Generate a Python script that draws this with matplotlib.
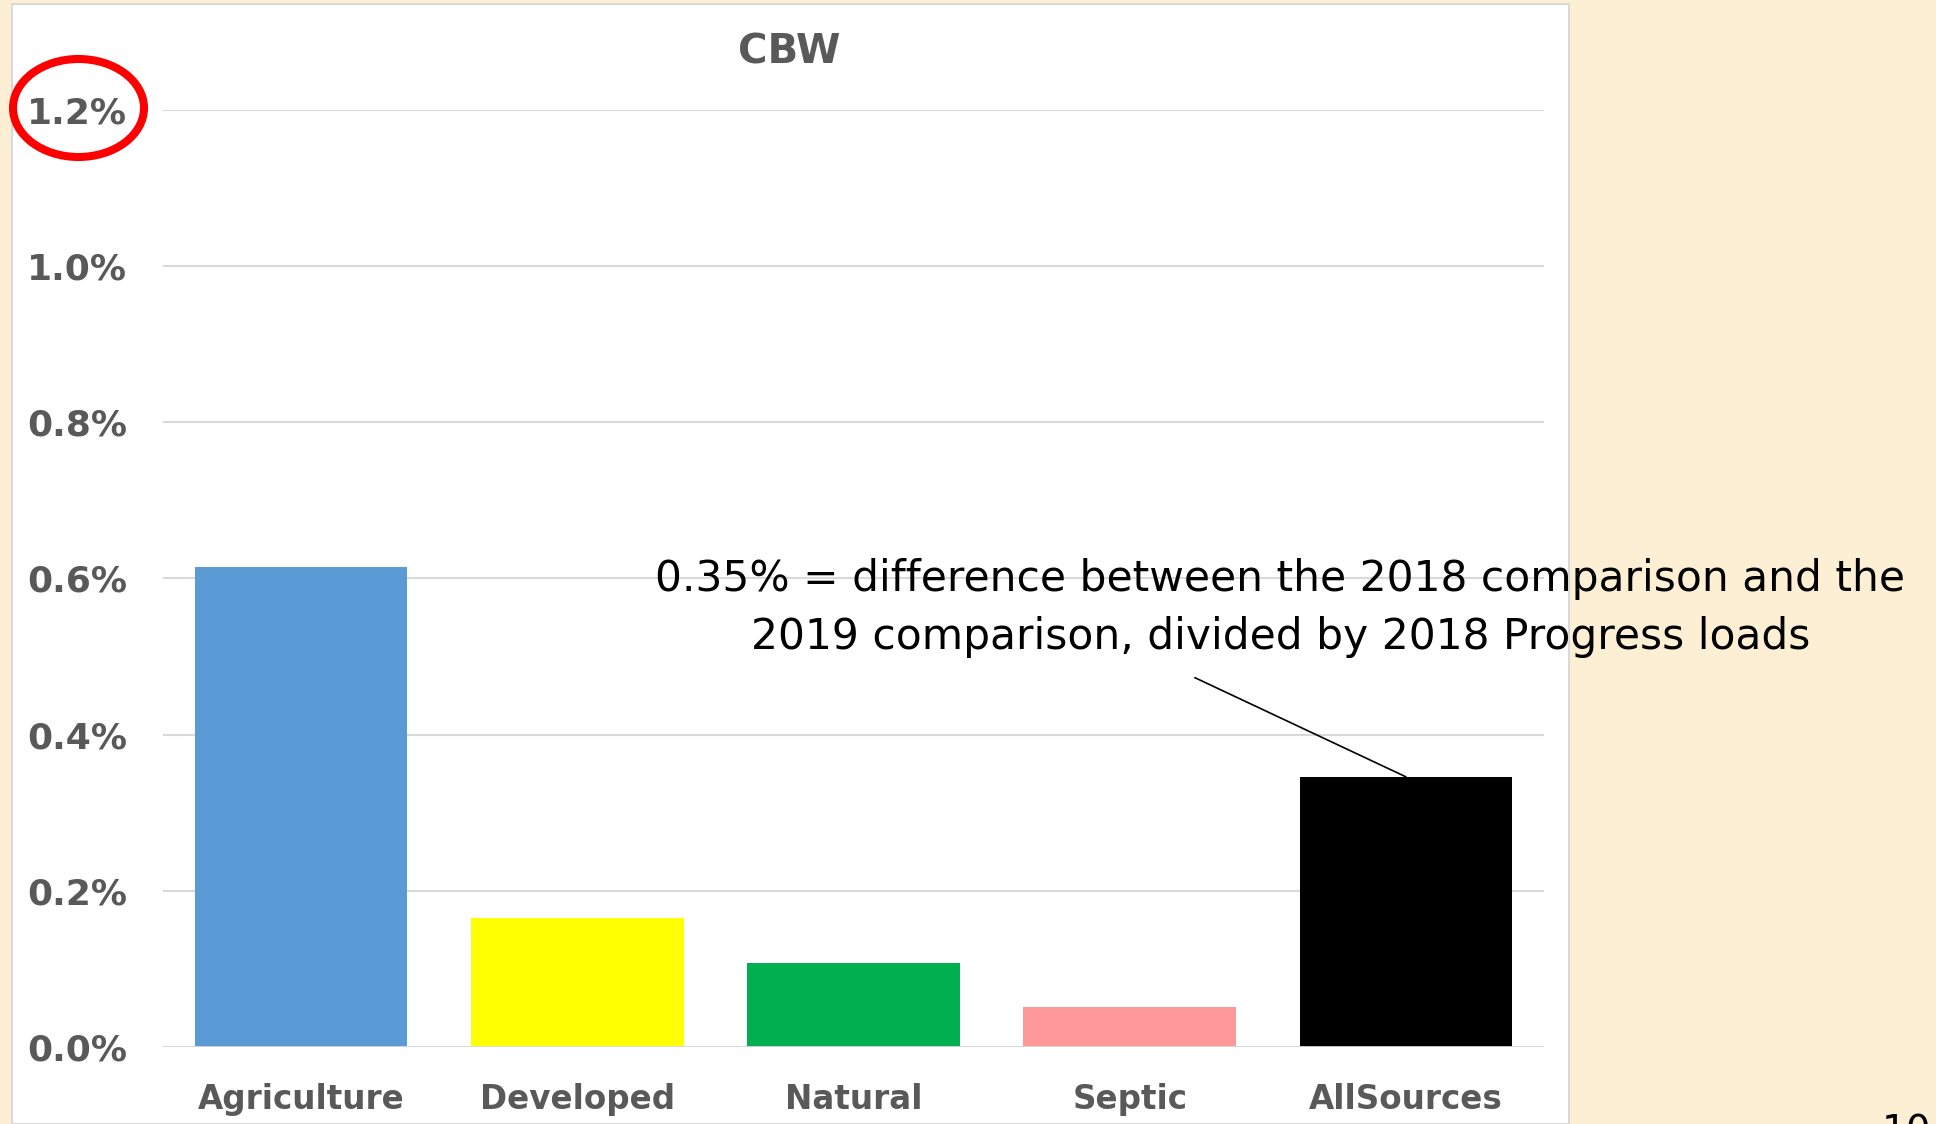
import numpy as np
import matplotlib.pyplot as plt
from matplotlib.patches import Rectangle, Ellipse

categories = ['Agriculture', 'Developed', 'Natural', 'Septic', 'AllSources']
values = [0.615, 0.165, 0.107, 0.051, 0.346]   # percent
bar_colors = ['#5B9BD5', '#FFFF00', '#00B050', '#FF9999', '#000000']
title = 'CBW'
note = ('0.35% = difference between the 2018 comparison and the\n'
        '2019 comparison, divided by 2018 Progress loads')

W, H = 1936, 1124
fig = plt.figure(figsize=(W / 100, H / 100), dpi=100)
fig.patch.set_facecolor('#FCEFD4')

# white chart panel
fig.patches.append(Rectangle((12 / W, 0), (1569 - 12) / W, 1 - 4 / H,
                             transform=fig.transFigure, facecolor='white',
                             edgecolor='#D9D9D9', linewidth=1.5, zorder=-1))

ax = fig.add_axes([163 / W, 77 / H, (1544 - 163) / W, (1047 - 110) / H])
ax.set_zorder(2)
ax.set_facecolor('none')
x = np.arange(len(categories))
ax.bar(x, values, width=0.77, color=bar_colors, zorder=3)

ax.set_xlim(-0.5, 4.5)
ax.set_ylim(0, 1.2)
ax.yaxis.set_major_locator(plt.MultipleLocator(0.2))
ax.yaxis.set_major_formatter(plt.FuncFormatter(lambda v, p: '%.1f%%' % v))
ax.grid(axis='y', color='#D9D9D9', linewidth=1.5, zorder=0)
for s in ax.spines.values():
    s.set_visible(False)
ax.axhline(0, color='#D9D9D9', linewidth=2, zorder=4)
ax.set_xticks(x)
ax.set_xticklabels(categories)
ax.tick_params(axis='y', length=0, pad=26, labelsize=26, labelcolor='#595959')
ax.tick_params(axis='x', length=0, pad=26, labelsize=23.5, labelcolor='#595959')
for lab in ax.get_xticklabels() + ax.get_yticklabels():
    lab.set_fontweight('bold')

fig.text(789 / W, 1 - 52 / H, title, ha='center', va='center',
         fontsize=29, fontweight='bold', color='#595959')

# annotation for AllSources
ax.annotate('', xy=(4, values[4]), xytext=(3.236, 0.473),
            arrowprops=dict(arrowstyle='-', color='black', lw=1.2,
                            shrinkA=0, shrinkB=0), zorder=5)
ax.text(3.545, 0.562, note, ha='center', va='center', fontsize=30.5,
        color='black', linespacing=1.5, clip_on=False, zorder=6)

# red circle highlighting the top tick label
fig.patches.append(Ellipse((78.5 / W, 1 - 108 / H), 131 / W, 98 / H,
                           transform=fig.transFigure, fill=False,
                           edgecolor='#FF0000', linewidth=5.8, zorder=10))

fig.text(1906 / W, 1 - 1114 / H, '10', ha='center', va='top', fontsize=28,
         color='black')

fig.savefig('out.png', dpi=100, facecolor=fig.get_facecolor())
